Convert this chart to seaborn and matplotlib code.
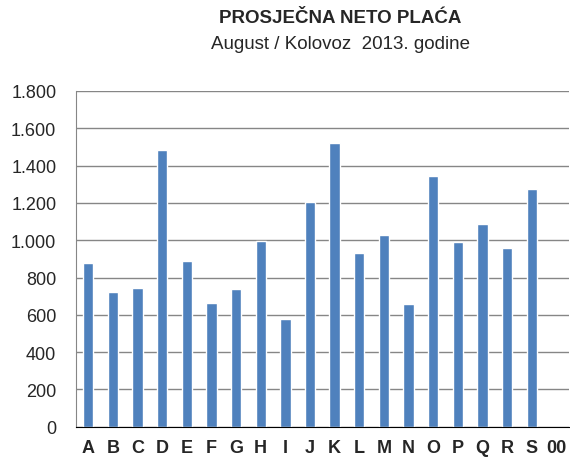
import pandas as pd
import matplotlib.pyplot as plt
import seaborn as sns

# data
categories = ['A', 'B', 'C', 'D', 'E', 'F', 'G', 'H', 'I', 'J', 'K', 'L', 'M',
              'N', 'O', 'P', 'Q', 'R', 'S', '00']
sectors = ['A', 'B', 'C', 'D', 'E', 'F', 'G', 'H', 'I', 'J', 'K', 'L', 'M',
           'N', 'O', 'P', 'Q', 'R', 'S']
salary = [880, 723, 745, 1484, 889, 664, 737, 996, 580, 1207, 1523, 932, 1027,
          659, 1346, 993, 1089, 960, 1277]
yticks = [0, 200, 400, 600, 800, 1000, 1200, 1400, 1600, 1800]
ylabels = ['0', '200', '400', '600', '800', '1.000', '1.200', '1.400', '1.600', '1.800']

sns.set_style('white')
plt.rcParams['font.family'] = ['Liberation Sans', 'DejaVu Sans']

df = pd.DataFrame({'sector': sectors, 'salary': salary})

fig = plt.figure(figsize=(5.7, 4.6), dpi=100)
ax = fig.add_axes([0.133, 0.07, 0.865, 0.73])

sns.barplot(data=df, x='sector', y='salary', order=categories,
            color='#4f81bd', saturation=1, width=0.42, ax=ax)

ax.set_ylim(0, 1800)
ax.set_xlim(-0.5, len(categories) - 0.5)
ax.set_yticks(yticks)
ax.set_yticklabels(ylabels, fontsize=13)
ax.set_xticks(range(len(categories)))
ax.set_xticklabels(categories, fontsize=13, fontweight='bold')
ax.set_xlabel('')
ax.set_ylabel('')

# tick marks between categories
ax.set_xticks([i - 0.5 for i in range(len(categories) + 1)], minor=True)
ax.tick_params(axis='x', which='major', length=0, pad=9)
ax.tick_params(axis='x', which='minor', length=4, color='#868686', direction='out')
ax.tick_params(axis='y', length=4, color='#868686', pad=10)

ax.yaxis.grid(True, color='#868686', linewidth=1)
ax.set_axisbelow(True)
for s in ['top', 'right']:
    ax.spines[s].set_visible(False)
ax.spines['left'].set_color('#868686')
ax.spines['bottom'].set_color('black')

fig.text(0.597, 0.96, 'PROSJEČNA NETO PLAĆA', ha='center', va='center',
         fontsize=13.5, fontweight='bold')
fig.text(0.597, 0.904, 'August / Kolovoz  2013. godine', ha='center', va='center',
         fontsize=13.5)

fig.savefig('out.png', dpi=100)
